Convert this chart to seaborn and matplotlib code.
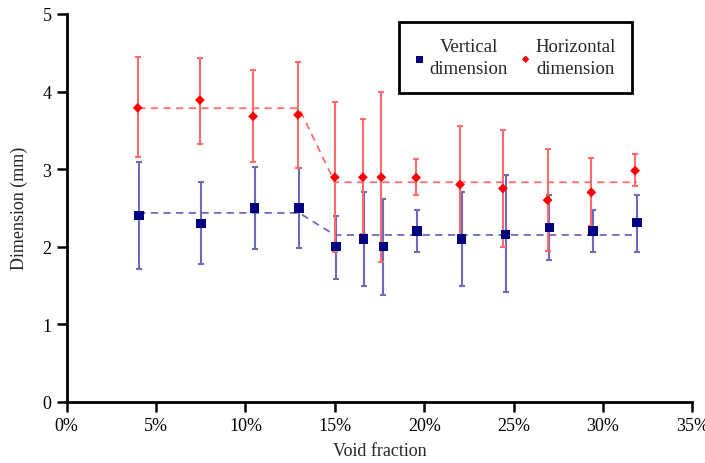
import numpy as np
import pandas as pd
import matplotlib
matplotlib.use("Agg")
import matplotlib.pyplot as plt
import seaborn as sns
from matplotlib.ticker import PercentFormatter, MultipleLocator

# Void fraction of each sample (horizontal and vertical series are slightly staggered)
x_horizontal = [0.0397, 0.0745, 0.1043, 0.1294, 0.150, 0.1657, 0.176, 0.1955, 0.220, 0.244, 0.269, 0.2935, 0.318]
x_vertical = [0.0404, 0.0752, 0.1052, 0.1300, 0.1506, 0.1662, 0.1772, 0.1960, 0.221, 0.2455, 0.270, 0.2945, 0.319]

# Horizontal dimension (mm): mean and error-bar limits
h_mean = [3.79, 3.89, 3.68, 3.70, 2.895, 2.895, 2.895, 2.89, 2.80, 2.75, 2.60, 2.70, 2.98]
h_upper = [4.44, 4.43, 4.28, 4.38, 3.87, 3.64, 4.00, 3.13, 3.55, 3.50, 3.26, 3.14, 3.19]
h_lower = [3.16, 3.33, 3.09, 3.02, 1.93, 2.16, 1.80, 2.67, 2.06, 1.99, 1.94, 2.27, 2.78]

# Vertical dimension (mm): mean and error-bar limits
v_mean = [2.40, 2.30, 2.50, 2.50, 2.00, 2.10, 2.00, 2.20, 2.10, 2.16, 2.25, 2.20, 2.31]
v_upper = [3.09, 2.84, 3.03, 3.02, 2.40, 2.71, 2.62, 2.47, 2.71, 2.92, 2.67, 2.47, 2.67]
v_lower = [1.71, 1.77, 1.97, 1.98, 1.58, 1.49, 1.38, 1.93, 1.49, 1.41, 1.83, 1.93, 1.93]

# Step-like trend lines (group averages below / above 15% voids)
trend_x = [0.040, 0.130, 0.150, 0.319]
h_trend = [3.785, 3.785, 2.83, 2.83]
v_trend = [2.435, 2.435, 2.15, 2.15]

series_labels = ["Vertical\ndimension", "Horizontal\ndimension"]
x_ticks = [0.0, 0.05, 0.10, 0.15, 0.20, 0.25, 0.30, 0.35]

sns.set_theme(style="ticks")
plt.rcParams["font.family"] = ["Liberation Serif", "DejaVu Serif"]

RED = "#ff0000"
RED_LIGHT = "#ff6a6a"
BLUE = "#000080"
BLUE_LIGHT = "#6b6bbd"

fig = plt.figure(figsize=(7.05, 4.64), dpi=100)
ax = fig.add_axes([0.0946, 0.132, 0.8874, 0.8357])

vert_df = pd.DataFrame({"x": x_vertical, "y": v_mean})
horz_df = pd.DataFrame({"x": x_horizontal, "y": h_mean})

# trend lines
sns.lineplot(x=trend_x, y=v_trend, ax=ax, color=BLUE_LIGHT, linestyle=(0, (4, 3)),
             linewidth=1.3, sort=False, zorder=1)
sns.lineplot(x=trend_x, y=h_trend, ax=ax, color=RED_LIGHT, linestyle=(0, (4, 3)),
             linewidth=1.3, sort=False, zorder=1)

# error bars
v_err = [np.subtract(v_mean, v_lower), np.subtract(v_upper, v_mean)]
h_err = [np.subtract(h_mean, h_lower), np.subtract(h_upper, h_mean)]
ax.errorbar(x_vertical, v_mean, yerr=v_err, fmt="none", ecolor=BLUE_LIGHT,
            elinewidth=1.5, capsize=2.5, capthick=1.5, zorder=2)
ax.errorbar(x_horizontal, h_mean, yerr=h_err, fmt="none", ecolor=RED_LIGHT,
            elinewidth=1.5, capsize=2.5, capthick=1.5, zorder=2)

# markers
sns.scatterplot(data=vert_df, x="x", y="y", ax=ax, marker="s", s=45, color=BLUE,
                edgecolor="none", label=series_labels[0], zorder=4)
sns.scatterplot(data=horz_df, x="x", y="y", ax=ax, marker="D", s=25, color=RED,
                edgecolor="none", label=series_labels[1], zorder=4)

ax.set_xlim(0, 0.35)
ax.set_ylim(0, 5)
ax.set_xticks(x_ticks)
ax.xaxis.set_major_formatter(PercentFormatter(xmax=1, decimals=0))
ax.yaxis.set_major_locator(MultipleLocator(1))

sns.despine(ax=ax)
for side in ("left", "bottom"):
    ax.spines[side].set_linewidth(2)
    ax.spines[side].set_color("black")
ax.tick_params(axis="both", direction="out", length=7, width=1.8, labelsize=13,
               colors="black", pad=4)

ax.set_xlabel("Void fraction", fontsize=13, labelpad=6)
ax.set_ylabel("Dimension (mm)", fontsize=13, labelpad=10)

handles, labels = ax.get_legend_handles_labels()
leg = ax.legend(handles, labels, ncol=2, loc="upper left", bbox_to_anchor=(0.531, 0.979),
                frameon=True, fancybox=False, edgecolor="black", framealpha=1,
                fontsize=13.5, handlelength=0.5, handletextpad=0.28, columnspacing=0.7,
                borderpad=0.85, borderaxespad=0, markerscale=0.75)
leg.get_frame().set_linewidth(2)
for t in leg.get_texts():
    t.set_multialignment("center")
    t.set_linespacing(1.4)

fig.savefig("out.png", dpi=100)
